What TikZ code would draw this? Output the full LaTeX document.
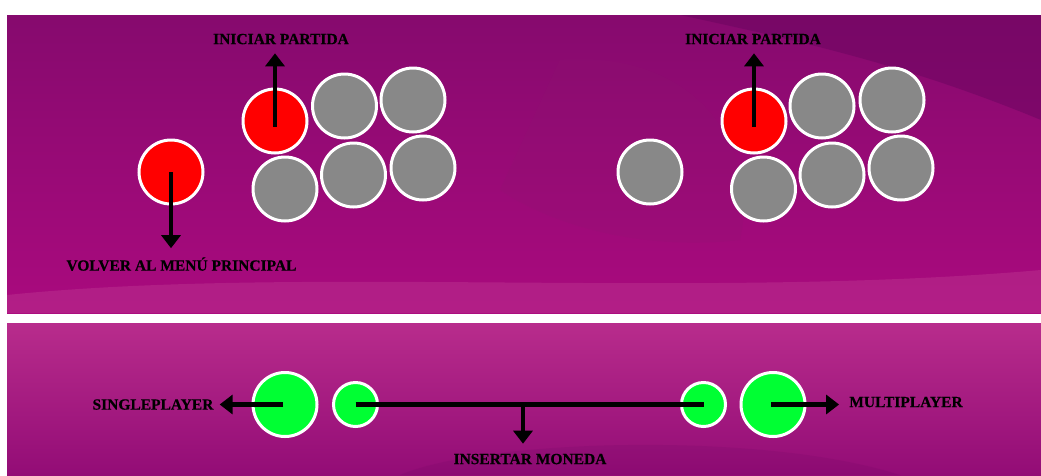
\documentclass[tikz,border=0pt]{standalone}
\usepackage{fontspec}
\setmainfont{Liberation Serif}[BoldFeatures={FakeBold=0.4}]
\usetikzlibrary{arrows.meta}
\definecolor{btnred}{HTML}{FF0000}
\definecolor{btngray}{HTML}{888888}
\definecolor{btngreen}{HTML}{00FF33}
\definecolor{plumdark}{HTML}{6A0560}
\definecolor{plum}{HTML}{960A76}
\definecolor{plumtop}{HTML}{860A6E}
\definecolor{magentamid}{HTML}{AA0A7E}
\definecolor{pinklight}{HTML}{B82C8C}
\definecolor{plummuted}{HTML}{8C1A70}
\definecolor{plumlow}{HTML}{930C76}

\tikzset{
  btn/.style={circle, draw=white, line width=3pt, inner sep=0pt, minimum size=64pt},
  redbtn/.style={btn, fill=btnred},
  graybtn/.style={btn, fill=btngray},
  greenbtn/.style={btn, fill=btngreen},
  coinbtn/.style={btn, fill=btngreen, minimum size=44pt},
  lbl/.style={font=\fontsize{15.5}{18}\selectfont\bfseries, text height=10.2pt, text depth=0pt, inner sep=0pt},
  arr/.style={-{Triangle[length=13pt,width=19pt]}, line width=4.3pt},
}

\begin{document}
\begin{tikzpicture}[x=1pt, y=-1pt]
    \useasboundingbox (0,0) rectangle (1041,475);
    \fill[white] (0,0) rectangle (1041,475);

    % Fondo panel superior
    \begin{scope}
        \clip (7,15) rectangle (1041,313);
        \shade[top color=plumtop, middle color=plum, bottom color=magentamid] (7,15) rectangle (1041,313);
        \fill[plumdark, opacity=0.5] (680,15) .. controls (820,45) and (920,70) .. (1041,120) -- (1041,15) -- cycle;
        \fill[plummuted, opacity=0.18] (560,60) .. controls (700,50) and (760,150) .. (740,240) .. controls (650,250) and (560,230) .. (500,190) -- cycle;
        \fill[pinklight, opacity=0.6] (7,295) .. controls (300,265) and (700,300) .. (1041,270) -- (1041,313) -- (7,313) -- cycle;
    \end{scope}

    % Fondo panel inferior
    \begin{scope}
        \clip (7,323) rectangle (1041,475);
        \shade[top color=pinklight, middle color=magentamid, bottom color=plumlow] (7,323) rectangle (1041,475);
        \fill[plumdark, opacity=0.15] (400,475) .. controls (480,440) and (760,430) .. (900,475) -- cycle;
    \end{scope}

    % Panel superior izquierdo
    \node[redbtn] (volver) at (171,172) {};
    \node[redbtn] (iniA) at (275,121) {};
    \node[graybtn] (grisA1) at (344.5,106) {};
    \node[graybtn] (grisA2) at (413,100) {};
    \node[graybtn] (grisA3) at (285,189) {};
    \node[graybtn] (grisA4) at (353.5,175) {};
    \node[graybtn] (grisA5) at (423,168) {};

    \node[lbl] (lblIniA) at (281,39) {INICIAR PARTIDA};
    \node[lbl] (lblVolver) at (181.5,265.5) {VOLVER AL MENÚ PRINCIPAL};
    \draw[arr, shorten >=9pt] ([yshift=-6pt]iniA.center) -- (iniA.center |- lblIniA.south);
    \draw[arr, shorten >=12pt] (volver.center) -- (volver.center |- lblVolver.north);

    % Panel superior derecho
    \node[graybtn] (solo) at (650,172) {};
    \node[redbtn] (iniB) at (754,121) {};
    \node[graybtn] (grisB1) at (822,106) {};
    \node[graybtn] (grisB2) at (892,100) {};
    \node[graybtn] (grisB3) at (763.5,189) {};
    \node[graybtn] (grisB4) at (832,175) {};
    \node[graybtn] (grisB5) at (901,168) {};

    \node[lbl] (lblIniB) at (753,39) {INICIAR PARTIDA};
    \draw[arr, shorten >=9pt] ([yshift=-6pt]iniB.center) -- (iniB.center |- lblIniB.south);

    % Panel inferior
    \node[greenbtn] (single) at (285,404.5) {};
    \node[coinbtn] (monedaA) at (355.5,404.5) {};
    \node[coinbtn] (monedaB) at (703.5,404.5) {};
    \node[greenbtn] (multi) at (773,404.5) {};

    \node[lbl] (lblSingle) at (153,404.5) {SINGLEPLAYER};
    \node[lbl] (lblMulti) at (906,402) {MULTIPLAYER};
    \node[lbl] (lblMoneda) at (530,459) {INSERTAR MONEDA};

    \coordinate (union) at (523,404.5);
    \draw[line width=4.3pt] (monedaA.center) -- (monedaB.center);
    \draw[arr, shorten >=6pt] ([xshift=-2pt]single.center) -- (single.center -| lblSingle.east);
    \draw[arr, shorten >=10pt] ([xshift=-2pt]multi.center) -- (multi.center -| lblMulti.west);
    \draw[arr, shorten >=10pt] ([yshift=2pt]union) -- (union |- lblMoneda.north);
\end{tikzpicture}
\end{document}
